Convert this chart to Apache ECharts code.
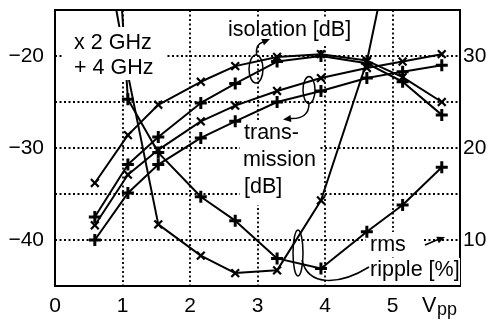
<!DOCTYPE html>
<html><head><meta charset="utf-8">
<script src="https://cdn.jsdelivr.net/npm/echarts@6/dist/echarts.min.js"></script>
<style>html,body{margin:0;padding:0;background:#fff}#c{width:491px;height:322px}</style>
</head><body><div id="c"></div>
<script>
// ---- data ----
const vpp = [0.59, 1.08, 1.53, 2.16, 2.67, 3.29, 3.94, 4.62, 5.15, 5.73];
const isolation2GHz    = [-33.8, -28.6, -25.3, -22.8, -21.1, -20.1, -19.8, -20.5, -22.3, -25.0];
const isolation4GHz    = [-37.5, -31.8, -28.8, -25.1, -23.0, -20.6, -20.0, -20.8, -22.8, -26.4];
const transmission2GHz = [-38.4, -32.9, -30.2, -27.1, -25.4, -23.8, -22.4, -21.3, -20.6, -19.8];
const transmission4GHz = [-40.0, -34.9, -31.8, -28.9, -27.1, -25.0, -23.8, -22.4, -21.7, -21.0];
const ripple2GHz = [48, 28, 11.7, 8.3, 6.4, 6.7, 14.3, 29.4, 48, null];
const ripple4GHz = [80, 25.3, 19.5, 14.7, 12.1, 8.0, 6.9, 10.9, 13.8, 17.9];
const xTickLabels = [0, 1, 2, 3, 4, 5];
const leftTickLabels = [-20, -30, -40];
const rightTickLabels = [10, 20, 30];

// ---- rendering ----
const FONT = "'Liberation Sans', Arial, Helvetica, sans-serif";
const FS = 21;
const FT = 21.5;
const chart = echarts.init(document.getElementById('c'), null, {renderer: 'canvas'});
const PLUS = 'path://M-1.5,-6H1.5V-1.5H6V1.5H1.5V6H-1.5V1.5H-6V-1.5H-1.5Z';
const CROSS = 'path://M-1,-5H1V-1H5V1H1V5H-1V1H-5V-1H-1Z';
function pts(ys) { return vpp.map((v, i) => [v, ys[i]]).filter(p => p[1] != null); }
function series(name, ys, axis, marker) {
  const plus = marker === '+';
  return {
    name, type: 'line', data: pts(ys), yAxisIndex: axis,
    symbol: plus ? PLUS : CROSS, symbolSize: plus ? 12 : 11, symbolRotate: plus ? 0 : 45,
    showSymbol: true, showAllSymbol: true, clip: true, z: 2,
    lineStyle: {color: '#000', width: 2}, itemStyle: {color: '#000', borderWidth: 0},
    emphasis: {disabled: true}
  };
}
const dotted = {color: '#000', width: 1.8, type: [2, 2.5]};
const lbl = {color: '#000', fontSize: FS, fontFamily: FONT};

const G = [];
function rect(x, y, w, h, z) { G.push({type: 'rect', silent: true, z, shape: {x, y, width: w, height: h}, style: {fill: '#fff'}}); }
function text(t, x, y, size, z) { G.push({type: 'text', silent: true, z, style: {text: t, x, y, font: size + 'px ' + FONT, fill: '#000', align: 'left', verticalAlign: 'middle'}}); }
function ellipse(cx, cy, rx, ry) { G.push({type: 'ellipse', silent: true, z: 20, shape: {cx, cy, rx, ry}, style: {fill: 'none', stroke: '#000', lineWidth: 1.5}}); }
function curve(s) { G.push({type: 'bezierCurve', silent: true, z: 20, shape: s, style: {fill: 'none', stroke: '#000', lineWidth: 1.5}}); }
function arrowHead(tx, ty, fx, fy, len, hw) {
  const dx = tx - fx, dy = ty - fy, d = Math.hypot(dx, dy), ux = dx / d, uy = dy / d;
  const bx = tx - ux * len, by = ty - uy * len;
  G.push({type: 'polygon', silent: true, z: 20, shape: {points: [[tx, ty], [bx - uy * hw, by + ux * hw], [bx + uy * hw, by - ux * hw]]}, style: {fill: '#000'}});
}

// legend box
rect(64, 27, 101, 53, 10);
text('x 2 GHz', 74, 43, FT, 11);
text('+ 4 GHz', 74, 68, FT, 11);
// isolation label
rect(225, 18, 130, 28, 1);
text('isolation [dB]', 228, 30, FT, 11);
ellipse(256, 69, 7, 14);
curve({x1: 256.5, y1: 55, cpx1: 255.5, cpy1: 44, x2: 263, y2: 42});
arrowHead(270, 39, 263, 42, 8, 3.5);
// transmission label
rect(240, 121, 80, 84, 1);
text('trans-', 244, 133, FT, 11);
text('mission', 243, 160, FT, 11);
text('[dB]', 244, 187, FT, 11);
ellipse(309, 90, 6, 13.5);
curve({x1: 309, y1: 103.5, cpx1: 309, cpy1: 119, x2: 291, y2: 118.5});
arrowHead(283, 119.5, 291, 118.5, 8, 3.5);
// ripple label
rect(366, 232, 56, 24, 1);
rect(366, 258, 94, 27, 1);
text('rms', 370, 245, FT, 11);
text('ripple [%]', 370, 270, FT, 11);
ellipse(298, 253, 5, 23);
curve({x1: 302, y1: 260, cpx1: 308, cpy1: 287, cpx2: 340, cpy2: 285, x2: 369, y2: 267});
G.push({type: 'line', silent: true, z: 20, shape: {x1: 425, y1: 245, x2: 438, y2: 239.5}, style: {stroke: '#000', lineWidth: 1.5}});
arrowHead(445, 237, 436, 240.5, 8, 3.5);
// axis name V_pp
text('V', 422, 306, FT, 11);
text('pp', 437, 310, 18, 11);

chart.setOption({
  animation: false,
  backgroundColor: '#fff',
  grid: {left: 55, right: 31, top: 10, bottom: 36, show: true, borderColor: '#000', borderWidth: 2, backgroundColor: 'transparent'},
  xAxis: {
    type: 'value', min: 0, max: 6, interval: 1,
    axisLine: {show: false}, axisTick: {show: false},
    splitLine: {show: true, lineStyle: dotted},
    axisLabel: Object.assign({margin: 10, formatter: v => xTickLabels.includes(v) ? String(v) : ''}, lbl)
  },
  yAxis: [{
    type: 'value', min: -45, max: -15, interval: 5, position: 'left',
    axisLine: {show: false}, axisTick: {show: false},
    splitLine: {show: true, lineStyle: dotted},
    axisLabel: Object.assign({margin: 11, formatter: v => leftTickLabels.includes(v) ? '\u2212' + Math.abs(v) : ''}, lbl)
  }, {
    type: 'value', min: 5, max: 35, interval: 5, position: 'right',
    axisLine: {show: false}, axisTick: {show: false},
    splitLine: {show: false},
    axisLabel: Object.assign({margin: 3, formatter: v => rightTickLabels.includes(v) ? String(v) : ''}, lbl)
  }],
  series: [
    series('isolation 2 GHz', isolation2GHz, 0, 'x'),
    series('isolation 4 GHz', isolation4GHz, 0, '+'),
    series('transmission 2 GHz', transmission2GHz, 0, 'x'),
    series('transmission 4 GHz', transmission4GHz, 0, '+'),
    series('rms ripple 2 GHz', ripple2GHz, 1, 'x'),
    series('rms ripple 4 GHz', ripple4GHz, 1, '+')
  ],
  graphic: {elements: G}
});
</script>
</body></html>
